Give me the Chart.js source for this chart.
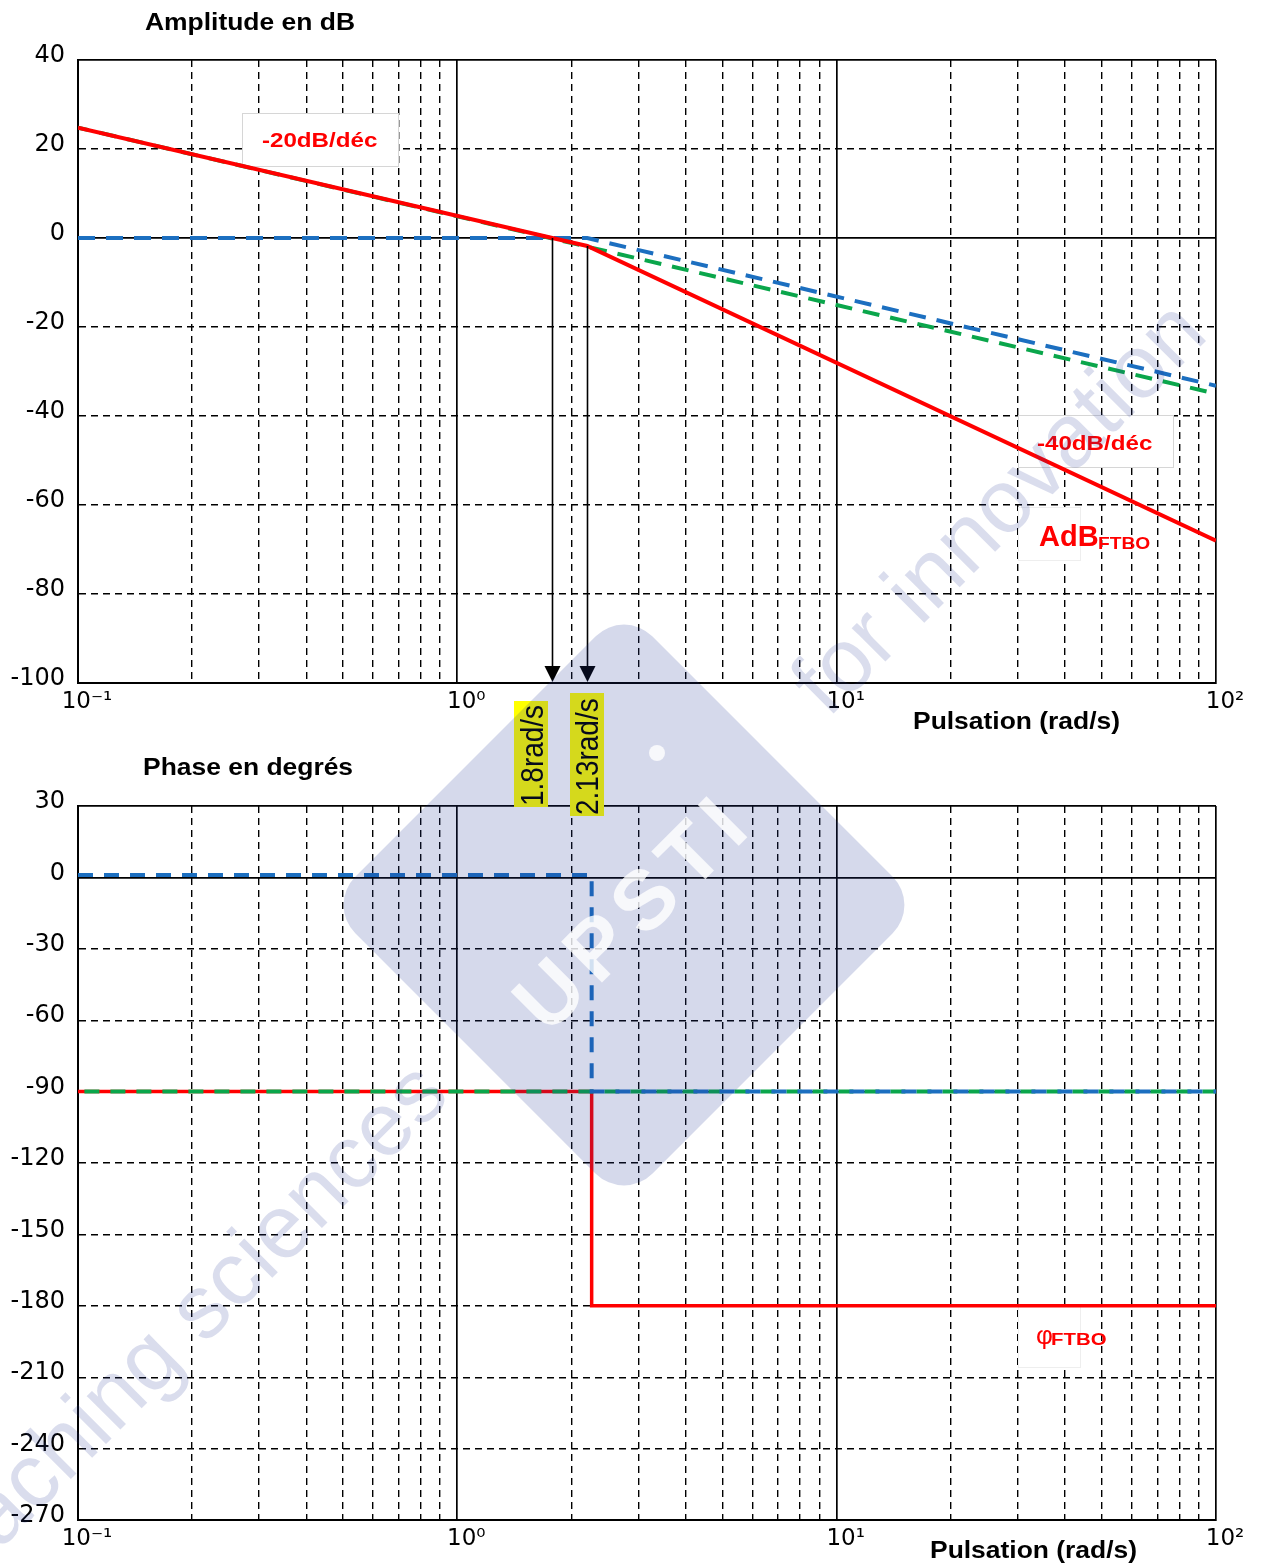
<!DOCTYPE html>
<html><head><meta charset="utf-8">
<script src="https://cdn.jsdelivr.net/npm/chart.js@4.4.1/dist/chart.umd.min.js"></script>
<style>
html,body{margin:0;padding:0;background:#fff;}
#wrap{position:relative;width:1261px;height:1564px;overflow:hidden;background:#fff;}
#c1wrap{position:absolute;left:0;top:0;width:1261px;height:740px;}
#c2wrap{position:absolute;left:0;top:760px;width:1261px;height:804px;}
#ov{position:absolute;left:0;top:0;pointer-events:none;}
</style></head><body>
<div id="wrap">
<div id="c1wrap"><canvas id="c1" width="1261" height="740"></canvas></div>
<div id="c2wrap"><canvas id="c2" width="1261" height="804"></canvas></div>
<svg id="ov" width="1261" height="1564" xmlns="http://www.w3.org/2000/svg" font-family="'Liberation Sans', Arial, sans-serif">
  <!-- axis titles -->
  <text transform="translate(145,30) scale(1.15,1)" font-size="23" font-weight="bold" fill="#000">Amplitude en dB</text>
  <text transform="translate(913,729) scale(1.15,1)" font-size="23" font-weight="bold" fill="#000">Pulsation (rad/s)</text>
  <text transform="translate(143,775) scale(1.15,1)" font-size="23" font-weight="bold" fill="#000">Phase en degrés</text>
  <text transform="translate(930,1558) scale(1.15,1)" font-size="23" font-weight="bold" fill="#000">Pulsation (rad/s)</text>
  <!-- annotations -->
  <text transform="translate(262,147) scale(1.15,1)" font-size="21" font-weight="bold" fill="#ff0000">-20dB/déc</text>
  <text transform="translate(1037,450) scale(1.15,1)" font-size="21" font-weight="bold" fill="#ff0000">-40dB/déc</text>
  <text transform="translate(1039,546)" font-size="29" font-weight="bold" fill="#ff0000">AdB</text>
  <text transform="translate(1098,549) scale(1.2,1)" font-size="16" font-weight="bold" fill="#ff0000">FTBO</text>
  <text transform="translate(1036,1344)" font-size="26" fill="#ff0000">φ</text>
  <text transform="translate(1051,1345) scale(1.2,1)" font-size="17" font-weight="bold" fill="#ff0000">FTBO</text>
  <!-- rotated frequency labels -->
  <rect x="514" y="701" width="34" height="106" fill="#ffff00"/>
  <text transform="translate(543,806) rotate(-90) scale(1,1.15)" font-size="28" fill="#000">1.8rad/s</text>
  <rect x="570" y="693" width="34" height="123" fill="#ffff00"/>
  <text transform="translate(598,815) rotate(-90) scale(1,1.15)" font-size="28" fill="#000">2.13rad/s</text>
  <!-- watermark -->
  <rect x="414" y="695" width="420" height="420" rx="40" ry="40" transform="rotate(45 624 905)" fill="rgb(34,55,147)" fill-opacity="0.19"/>
  <text transform="translate(632,910) rotate(-45)" x="0" y="30" text-anchor="middle" font-size="84" font-weight="bold" letter-spacing="10" fill="#ffffff" fill-opacity="0.8">UPSTI</text>
  <circle cx="657" cy="753" r="8" fill="#ffffff" fill-opacity="0.8"/>
  <text transform="translate(452,1098) rotate(-45)" text-anchor="end" font-size="90" fill="rgb(34,55,147)" fill-opacity="0.17">teaching sciences</text>
  <text transform="translate(828,719) rotate(-45)" font-size="90" fill="rgb(34,55,147)" fill-opacity="0.17">for innovation</text>
</svg>
</div>
<script>
// ---------- data ----------
const omegaTicks = [0.1,0.2,0.3,0.4,0.5,0.6,0.7,0.8,0.9,1,2,3,4,5,6,7,8,9,10,20,30,40,50,60,70,80,90,100];
const decadeValues = [0.1, 1, 10, 100];
const decadeLabels = ['10⁻¹', '10⁰', '10¹', '10²'];
const ampTicks = [-100,-80,-60,-40,-20,0,20,40];
const phaseTicks = [-270,-240,-210,-180,-150,-120,-90,-60,-30,0,30];

// amplitude (dB) asymptotes
const ampRedW = [0.1, 1.78, 2.2, 100];
const ampRedDb = [24.8, 0, -1.8, -68];
const ampBlueW = [0.1, 2.2, 100];
const ampBlueDb = [0, 0, -33.2];
const ampGreenW = [0.1, 100];
const ampGreenDb = [24.8, -35];
// phase (deg) asymptotes
const phaseRedW = [0.1, 2.26, 2.26, 100];
const phaseRedDeg = [-90, -90, -180, -180];
const phaseBlueW = [0.1, 2.26, 2.26, 100];
const phaseBlueDeg = [1, 1, -90, -90];
const phaseGreenW = [0.1, 100];
const phaseGreenDeg = [-90, -90];
// marker arrows (pulsations read on the plot)
const markerW = [1.78, 2.2];
const markerDb = [0, -1.8];

// ---------- helpers ----------
const RED = '#ff0000', BLUE = '#1c6fc0', GREEN = '#0aa64b';
const pts = (xs, ys) => xs.map((x, i) => ({x: x, y: ys[i]}));
const isDecade = v => Math.abs(Math.log10(v) - Math.round(Math.log10(v))) < 1e-6;
const decadeLabel = v => {
  for (let i = 0; i < decadeValues.length; i++) if (Math.abs(v - decadeValues[i]) / decadeValues[i] < 1e-6) return decadeLabels[i];
  return '';
};
Chart.defaults.font.family = "'DejaVu Sans', sans-serif";
Chart.defaults.color = '#000';

const boxPlugin = {
  id: 'noteBoxes',
  beforeDatasetsDraw(chart, args, opts) {
    const ctx = chart.ctx;
    ctx.save();
    (opts.boxes || []).forEach(b => {
      ctx.fillStyle = '#fff';
      ctx.fillRect(b[0], b[1] - opts.dy, b[2], b[3]);
      ctx.strokeStyle = b[4];
      ctx.lineWidth = 1;
      ctx.strokeRect(b[0] + 0.5, b[1] - opts.dy + 0.5, b[2], b[3]);
    });
    ctx.restore();
  }
};

const arrowPlugin = {
  id: 'arrows',
  afterDatasetsDraw(chart, args, opts) {
    if (!opts.enabled) return;
    const ctx = chart.ctx, xs = chart.scales.x, ys = chart.scales.y, bottom = chart.chartArea.bottom;
    ctx.save();
    ctx.strokeStyle = '#000'; ctx.fillStyle = '#000'; ctx.lineWidth = 1.6;
    markerW.forEach((w, i) => {
      const x = Math.round(xs.getPixelForValue(w)) + 0.5;
      const y0 = ys.getPixelForValue(markerDb[i]);
      ctx.beginPath(); ctx.moveTo(x, y0); ctx.lineTo(x, bottom - 12); ctx.stroke();
      ctx.beginPath(); ctx.moveTo(x - 8, bottom - 17); ctx.lineTo(x + 8, bottom - 17); ctx.lineTo(x, bottom - 1); ctx.closePath(); ctx.fill();
    });
    ctx.restore();
  }
};

function xAxis(axisHeight) {
  return {
    type: 'logarithmic', min: 0.1, max: 100,
    afterBuildTicks: s => { s.ticks = omegaTicks.map(v => ({value: v})); },
    afterFit: s => { s.height = axisHeight; },
    ticks: {autoSkip: false, maxRotation: 0, minRotation: 0, padding: 5, labelOffset: 9,
            font: {size: 23}, color: '#000', callback: v => decadeLabel(v)},
    grid: {color: '#000', drawTicks: false,
           lineWidth: c => (c.tick && isDecade(c.tick.value)) ? 1.7 : 1.4},
    border: {display: true, color: '#000', width: 2,
             dash: c => (c.tick && !isDecade(c.tick.value)) ? [7, 5] : []}
  };
}
function yAxis(tickArr) {
  const mn = tickArr[0], mx = tickArr[tickArr.length - 1];
  const solid = v => v === 0 || v === mn || v === mx;
  return {
    type: 'linear', min: mn, max: mx,
    afterBuildTicks: s => { s.ticks = tickArr.map(v => ({value: v})); },
    afterFit: s => { s.width = 78; },
    ticks: {padding: 13, labelOffset: -4, font: {size: 24}, color: '#000'},
    grid: {color: '#000', drawTicks: false,
           lineWidth: c => (c.tick && solid(c.tick.value)) ? 1.7 : 1.4},
    border: {display: true, color: '#000', width: 2,
             dash: c => (c.tick && !solid(c.tick.value)) ? [7, 5] : []}
  };
}
const lineDs = (data, color, width, dash, offset) => ({
  data: data, borderColor: color, borderWidth: width, borderDash: dash || [], borderDashOffset: offset || 0,
  pointRadius: 0, fill: false, tension: 0, borderCapStyle: 'butt', borderJoinStyle: 'miter'
});

// ---------- amplitude chart ----------
new Chart(document.getElementById('c1'), {
  type: 'line',
  data: {datasets: [
    lineDs(pts(ampRedW, ampRedDb), RED, 4),
    lineDs(pts(ampBlueW, ampBlueDb), BLUE, 4, [17, 11]),
    lineDs(pts(ampGreenW, ampGreenDb), GREEN, 4, [17, 11], 6)
  ]},
  options: {
    responsive: false, animation: false, devicePixelRatio: 1,
    layout: {padding: {left: 0, top: 60, right: 45, bottom: 0}},
    scales: {x: xAxis(57), y: yAxis(ampTicks)},
    plugins: {legend: {display: false}, tooltip: {enabled: false},
      noteBoxes: {dy: 0, boxes: [[242, 113, 156, 53, '#d6d6d6'], [1018, 415, 155, 52, '#d6d6d6'], [1018, 507, 62, 53, '#eeeeee']]},
      arrows: {enabled: true}}
  },
  plugins: [boxPlugin, arrowPlugin]
});

// ---------- phase chart ----------
new Chart(document.getElementById('c2'), {
  type: 'line',
  data: {datasets: [
    lineDs(pts(phaseBlueW, phaseBlueDeg), BLUE, 4, [15, 11]),
    lineDs(pts(phaseGreenW, phaseGreenDeg), GREEN, 4, [15, 11], 19.6),
    lineDs(pts(phaseRedW, phaseRedDeg), RED, 3.5)
  ]},
  options: {
    responsive: false, animation: false, devicePixelRatio: 1,
    layout: {padding: {left: 0, top: 46, right: 45, bottom: 0}},
    scales: {x: xAxis(44), y: yAxis(phaseTicks)},
    plugins: {legend: {display: false}, tooltip: {enabled: false},
      noteBoxes: {dy: 760, boxes: [[1018, 1306, 62, 61, '#eeeeee']]},
      arrows: {enabled: false}}
  },
  plugins: [boxPlugin, arrowPlugin]
});
</script>
</body></html>
